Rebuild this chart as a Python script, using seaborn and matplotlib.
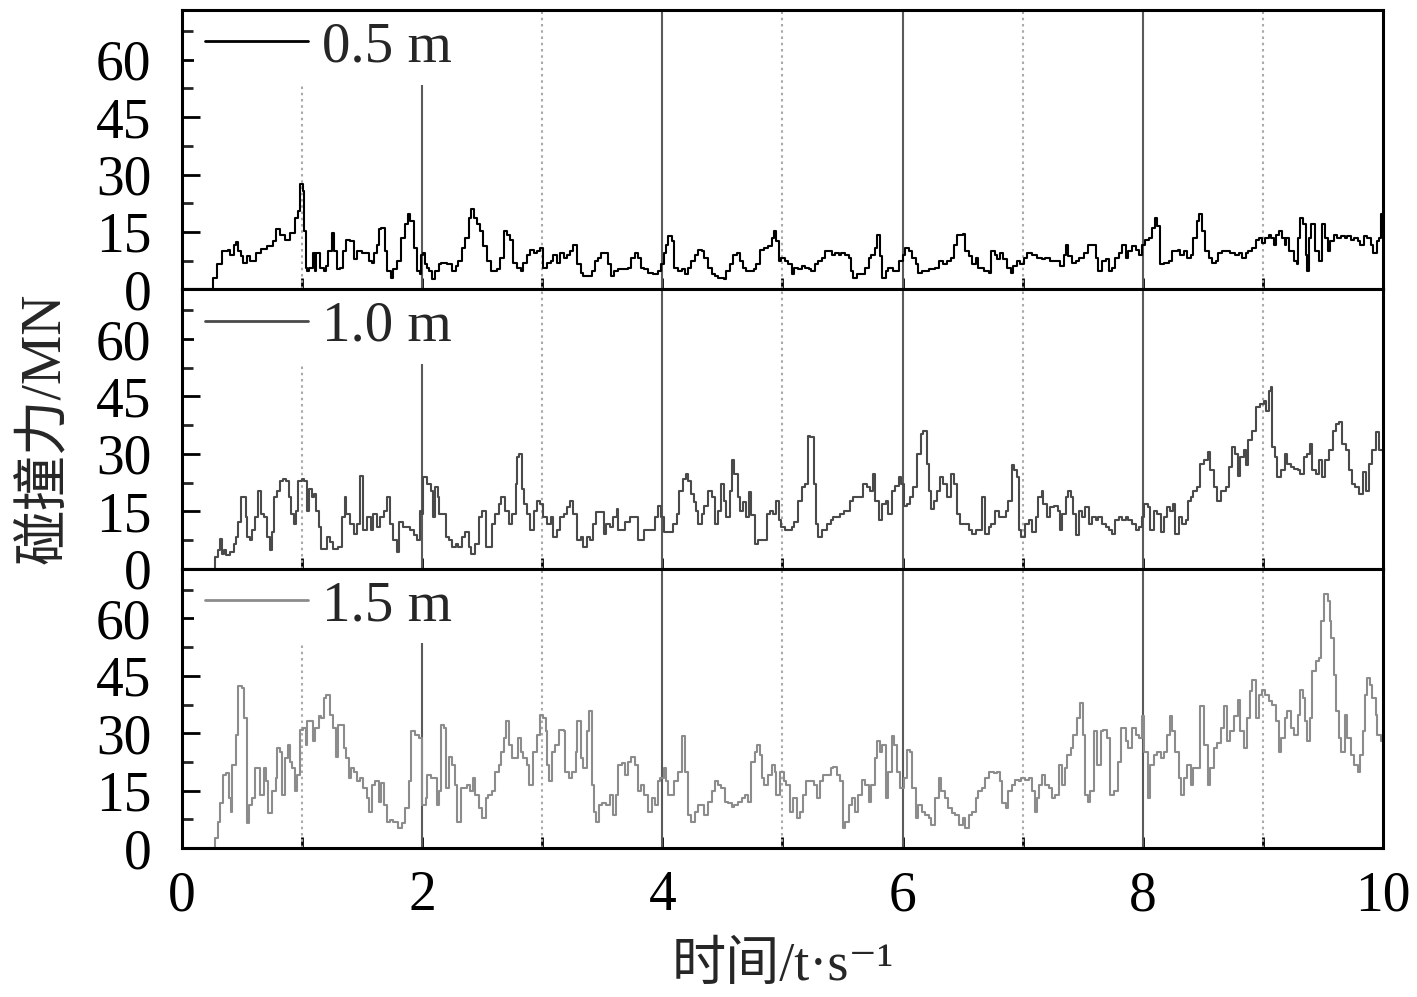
import numpy as np
import pandas as pd
import matplotlib
matplotlib.use("Agg")
import matplotlib.pyplot as plt
from matplotlib.ticker import MultipleLocator
import seaborn as sns

# ---------------- data (time s, force MN) ----------------
labels = ["0.5 m", "1.0 m", "1.5 m"]
colors = ["#000000", "#4a4a4a", "#8c8c8c"]

pts_05 = [(0,0),(0.23,0),(0.26,3),(0.29,6.5),(0.33,10),(0.36,10),(0.38,10.4),(0.40,9.1),(0.43,11.7),(0.45,12.4),(0.47,10),(0.49,8.7),(0.51,7),(0.54,8.7),(0.57,7.4),(0.62,9.6),(0.66,10.5),(0.71,11.3),(0.76,12.6),(0.78,15.7),(0.82,14.3),(0.86,13),(0.90,14.8),(0.94,18.7),(0.97,20.4),(0.98,27.4),(1.01,25.7),(1.02,15.2),(1.03,5.7),(1.04,4.8),(1.06,5.7),(1.09,9.6),(1.11,4.8),(1.12,9.6),(1.15,5.7),(1.18,4.8),(1.20,6.1),(1.22,10),(1.25,14.8),(1.27,10),(1.29,5.2),(1.32,5.7),(1.34,10),(1.37,13),(1.40,12.6),(1.43,7.8),(1.46,10),(1.50,9.6),(1.54,9.6),(1.56,7.4),(1.58,7),(1.60,9.6),(1.62,11.7),(1.64,15.7),(1.66,16.1),(1.69,10),(1.71,4.8),(1.74,3),(1.76,5.2),(1.79,7.4),(1.82,13.5),(1.86,17),(1.88,19.6),(1.90,17.8),(1.93,10.9),(1.96,4.8),(1.98,3.9),(1.99,9.1),(2.01,9.6),(2.02,6.5),(2.04,5.7),(2.06,4.8),(2.08,2.6),(2.11,4.8),(2.14,6.5),(2.16,7),(2.21,6.5),(2.25,4.8),(2.28,6.1),(2.30,7.4),(2.33,10.9),(2.36,13.5),(2.39,18.7),(2.41,20.9),(2.43,18.7),(2.46,17),(2.48,15.2),(2.51,11.3),(2.54,7.4),(2.57,4.8),(2.59,4.8),(2.62,5.2),(2.65,8.3),(2.68,15.2),(2.71,14.3),(2.73,13),(2.76,7),(2.79,5.7),(2.82,4.8),(2.84,7),(2.87,9.1),(2.90,10.4),(2.93,9.6),(2.96,10),(2.98,10.9),(3.01,5.7),(3.04,7),(3.07,7.4),(3.09,9.1),(3.12,7),(3.15,9.6),(3.18,8.3),(3.21,9.1),(3.23,10),(3.26,11.7),(3.29,6.5),(3.32,4.3),(3.34,3.5),(3.40,3.5),
          (3.41,4.8),(3.44,7.4),(3.46,8.3),(3.49,9.6),(3.52,9.6),(3.55,6.5),(3.57,3.5),(3.60,4.8),(3.63,5.2),(3.67,5.2),(3.71,5.7),(3.74,8.3),(3.77,9.6),(3.80,8.3),(3.82,5.7),(3.85,5.2),(3.88,4.3),(3.92,3.9),(3.96,4.8),(3.99,6.5),(4.01,9.6),(4.03,11.7),(4.05,13.9),(4.08,12.6),(4.10,5.7),(4.13,4.8),(4.16,5.2),(4.19,3.9),(4.21,5.7),(4.24,7.4),(4.27,9.1),(4.30,10.4),(4.33,10),(4.35,8.3),(4.38,5.7),(4.41,3.9),(4.44,3.5),(4.46,3),(4.51,2.6),(4.53,4.8),(4.56,6.5),(4.59,9.1),(4.62,9.6),(4.65,7.4),(4.67,5.7),(4.70,4.8),(4.73,4.8),(4.76,5.2),(4.78,6.5),(4.81,10.4),(4.85,10.9),(4.88,11.3),(4.91,13.5),(4.93,15.2),(4.95,12.6),(4.97,7.4),(4.99,8.3),(5.02,7.4),(5.05,6.5),(5.08,3.9),(5.10,5.7),(5.13,5.2),(5.16,6.1),(5.19,5.7),(5.22,5.2),(5.24,4.8),(5.27,6.5),(5.30,7.4),(5.33,8.3),(5.35,10),(5.38,10),(5.41,9.1),(5.44,9.6),(5.47,9.1),(5.49,9.6),(5.52,9.1),(5.55,8.3),(5.57,4.8),(5.59,3),(5.62,3.9),(5.66,3.9),(5.69,5.7),(5.72,8.3),(5.74,9.1),(5.77,10.9),(5.79,14.3),(5.81,8.7),(5.83,3),(5.86,4.8),(5.88,5.7),(5.92,4.8),(5.97,7.4),(6.00,9.1),(6.02,10.9),(6.05,10),(6.08,8.3),(6.11,6.5),(6.13,4.3),(6.16,4.8),(6.22,5.2),(6.27,5.7),(6.30,7.4),(6.34,6.5),(6.37,7.4),(6.40,8.3),(6.43,11.7),(6.45,14.3),(6.50,14.5),(6.52,10),(6.55,8.7),(6.58,6.5),(6.61,8.3),(6.63,5.7),(6.68,4.8),(6.72,4.3),
          (6.74,10),(6.77,9.1),(6.79,7.8),(6.81,9.6),(6.84,7.8),(6.87,5.7),(6.90,4.3),(6.92,6.1),(6.95,7.4),(6.98,6.5),(7.01,8.3),(7.04,9.6),(7.08,9.1),(7.12,8.3),(7.16,7.8),(7.19,8.3),(7.23,7.4),(7.27,7.4),(7.31,6.1),(7.34,9.1),(7.36,11.7),(7.38,8.7),(7.41,7),(7.44,7.4),(7.47,8.3),(7.51,9.6),(7.54,11.7),(7.58,11.7),(7.61,8.3),(7.63,4.8),(7.66,7.4),(7.69,7.8),(7.72,4.8),(7.74,5.7),(7.77,8.3),(7.80,9.6),(7.83,11.7),(7.86,8.3),(7.88,10),(7.91,11.3),(7.94,10.4),(7.97,9.1),(7.99,11.7),(8.02,13),(8.05,13.5),(8.08,16.1),(8.10,18.7),(8.12,16.5),(8.14,6.5),(8.18,7),(8.22,7.4),(8.24,10),(8.29,10.4),(8.31,9.1),(8.34,10),(8.37,8.3),(8.40,9.1),(8.42,13.5),(8.45,17.8),(8.47,19.6),(8.49,15.2),(8.52,10),(8.55,8.3),(8.58,7),(8.61,7.4),(8.63,9.6),(8.66,10),(8.69,10),(8.73,9.6),(8.77,9.1),(8.80,9.6),(8.83,8.3),(8.86,9.6),(8.88,10),(8.91,10.9),(8.94,13),(8.97,13.5),(8.99,12.2),(9.02,13.5),(9.05,14.3),(9.07,13.5),(9.09,11.7),(9.11,14.3),(9.13,15.2),(9.16,13.5),(9.18,11.7),(9.19,13.5),(9.22,10),(9.26,7.4),(9.28,6.5),(9.29,13.5),(9.31,18.7),(9.33,17),(9.36,9.1),(9.37,4.8),(9.38,13.5),(9.40,17),(9.43,10),(9.45,10),(9.47,7.4),(9.49,17),(9.52,13.5),(9.54,10),(9.56,12.6),(9.59,14.3),(9.62,13.5),(9.65,13.9),(9.68,13.5),(9.70,13.9),(9.73,13),(9.76,13.5),(9.79,12.6),(9.81,11.7),(9.84,13.9),(9.87,13.5),(9.90,11.7),(9.92,9.6),(9.95,12.6),(9.97,13.5),(9.98,19.6),(10.0,15.2)]

pts_10 = [(0,0),(0.25,0),(0.275,3),(0.30,4.8),(0.32,7.8),(0.33,3.9),(0.35,4.8),(0.37,3.5),(0.40,4.3),(0.43,6.5),(0.45,8.3),(0.47,12.2),(0.49,18.7),(0.51,18.7),(0.53,13.5),(0.54,8.3),(0.57,7.4),(0.58,10),(0.61,13.5),(0.63,20.4),(0.65,20.4),(0.66,14.3),(0.68,13.5),(0.71,8.3),(0.73,4.8),(0.75,9.6),(0.77,18.7),(0.79,20.4),(0.82,23),(0.84,23.5),(0.87,23),(0.89,18.7),(0.91,14.3),(0.93,11.7),(0.95,15.2),(0.97,23),(1.00,23.5),(1.02,23),(1.04,15.2),(1.06,20.9),(1.08,18.7),(1.10,19.6),(1.12,15.2),(1.14,10.9),(1.16,5.2),(1.18,5.2),(1.21,8.3),(1.23,7),(1.26,5.2),(1.30,5.7),(1.33,13.5),(1.36,18.7),(1.37,14.3),(1.40,11.7),(1.43,9.1),(1.46,11.7),(1.48,24.3),(1.50,24.3),(1.51,10),(1.54,13.5),(1.57,10),(1.59,14.3),(1.62,10.9),(1.65,13.5),(1.68,15.2),(1.71,18.7),(1.73,11.7),(1.76,7.4),(1.79,4.3),(1.81,12.2),(1.84,10.9),(1.87,10.9),(1.90,10),(1.93,8.7),(1.96,7.4),(1.98,15.2),(2.00,14.3),(2.01,23.9),(2.04,22.2),(2.07,20.4),(2.09,13.5),(2.11,21.3),(2.13,18.7),(2.14,14.3),(2.18,14.3),(2.20,8.3),(2.22,7.4),(2.25,5.7),(2.28,6.5),(2.30,5.7),(2.33,8.3),(2.36,9.6),(2.39,5.7),(2.41,3.9),(2.44,6.5),(2.47,13.5),(2.50,15.2),(2.53,5.7),(2.55,5.7),(2.58,11.7),(2.61,14.3),(2.64,17),(2.66,18.7),(2.69,15.2),(2.72,11.7),(2.75,14.3),(2.78,22.2),(2.79,29.1),(2.81,30),(2.83,20.9),(2.85,17),(2.87,14.3),(2.90,10),(2.93,15.2),(2.96,17.8),(2.98,17),(3.01,13.5),(3.04,11.7),(3.07,13.5),(3.09,8.3),(3.12,10),(3.15,13.5),(3.18,14.3),(3.21,16.1),(3.23,17.8),(3.26,14.3),(3.29,7.4),(3.32,8.3),(3.34,5.7),(3.37,8.3),(3.40,7.4),
          (3.42,11.7),(3.45,14.8),(3.49,14.8),(3.51,9.1),(3.53,11.7),(3.56,10.9),(3.59,13.5),(3.62,15.7),(3.63,10),(3.66,10),(3.69,12.2),(3.73,13.5),(3.77,13.5),(3.80,7.4),(3.82,7.4),(3.85,10),(3.89,10),(3.94,13.5),(3.96,16.5),(3.99,13.5),(4.01,9.6),(4.05,9.6),(4.09,11.7),(4.12,14.3),(4.14,20.4),(4.17,23.5),(4.20,24.8),(4.21,23),(4.24,19.6),(4.26,17.4),(4.28,15.2),(4.30,11.7),(4.33,14.3),(4.35,16.5),(4.38,20.4),(4.41,18.7),(4.44,11.7),(4.46,15.2),(4.49,22.2),(4.51,17.8),(4.53,13.5),(4.56,20.4),(4.58,28.3),(4.60,24.8),(4.63,18.7),(4.65,15.2),(4.67,17.4),(4.70,13.5),(4.72,20),(4.74,13.9),(4.77,6.5),(4.80,7.4),(4.84,7.4),(4.87,14.3),(4.90,15.2),(4.92,14.3),(4.95,17.8),(4.97,12.6),(4.99,10.9),(5.02,10),(5.05,10),(5.08,10.9),(5.10,12.2),(5.13,17.8),(5.16,21.3),(5.19,22.2),(5.21,34.8),(5.23,34.3),(5.26,22.2),(5.28,11.7),(5.30,8.3),(5.33,10),(5.37,11.7),(5.40,12.6),(5.42,13.5),(5.45,13.5),(5.48,14.3),(5.51,15.2),(5.54,15.2),(5.56,17.8),(5.59,18.7),(5.63,18.7),(5.67,22.2),(5.70,21.3),(5.73,20.4),(5.75,24.8),(5.77,17.8),(5.80,12.6),(5.83,17),(5.86,17.8),(5.88,14.3),(5.91,20.4),(5.94,21.7),(5.97,23.9),(5.99,22.2),(6.01,16.5),(6.04,17),(6.06,18.7),(6.09,21.3),(6.12,30),(6.15,35.2),(6.17,36.1),(6.20,27.4),(6.22,20.4),(6.24,15.7),(6.26,17.8),(6.29,20.4),(6.31,23.9),(6.34,22.2),(6.37,18.7),(6.40,24.8),(6.43,22.2),(6.45,14.3),(6.48,11.7),(6.52,11.7),(6.55,10),(6.58,9.1),(6.61,10),(6.63,10),(6.66,18.7),(6.69,9.1),(6.72,10.9),
          (6.74,11.7),(6.77,15.2),(6.80,13.5),(6.83,13.5),(6.86,15.2),(6.88,17.8),(6.91,27),(6.93,25.7),(6.95,23.9),(6.97,10),(6.99,8.3),(7.02,11.7),(7.05,12.6),(7.08,9.6),(7.11,13.5),(7.13,18.7),(7.16,20.4),(7.17,17),(7.20,13.5),(7.23,16.1),(7.26,16.5),(7.29,15.2),(7.31,10),(7.33,14.3),(7.36,18.7),(7.38,20.4),(7.40,18.7),(7.42,14.3),(7.44,8.7),(7.47,15.2),(7.49,13.5),(7.52,16.1),(7.55,11.7),(7.58,13.5),(7.61,12.6),(7.63,13.5),(7.66,11.7),(7.69,10.9),(7.72,10),(7.74,9.1),(7.77,12.6),(7.80,13.5),(7.83,12.6),(7.86,13.5),(7.88,12.6),(7.91,11.7),(7.94,10),(7.97,10.9),(7.99,13.5),(8.01,17),(8.04,16.1),(8.06,10),(8.09,15.2),(8.12,14.3),(8.15,9.6),(8.18,13.5),(8.20,16.1),(8.23,15.2),(8.25,17),(8.27,9.1),(8.30,13.5),(8.33,11.7),(8.36,12.6),(8.38,17.8),(8.40,18.7),(8.42,20.4),(8.45,21.3),(8.48,27.4),(8.51,28.3),(8.54,30.4),(8.56,25.7),(8.59,21.3),(8.62,17.8),(8.65,20.4),(8.69,21.3),(8.72,26.5),(8.74,31.7),(8.77,30),(8.79,24.3),(8.81,29.1),(8.84,30.9),(8.86,27),(8.88,33.5),(8.91,36.1),(8.94,42.2),(8.98,43),(9.01,43.9),(9.03,41.3),(9.05,46.5),(9.07,47.4),(9.08,31.7),(9.10,29.1),(9.12,23.9),(9.15,25.7),(9.18,30),(9.20,27.4),(9.23,26.5),(9.26,26.1),(9.29,25.7),(9.31,24.8),(9.34,29.1),(9.37,30),(9.39,32.6),(9.41,25.7),(9.44,24.8),(9.47,28.3),(9.49,23.9),(9.52,28.3),(9.55,30.9),(9.58,36.1),(9.61,37.8),(9.63,38.3),(9.66,32.6),(9.69,30.9),(9.72,25.7),(9.74,22.2),(9.77,21.3),(9.80,19.6),(9.83,25.2),(9.86,20.4),(9.88,27.4),(9.91,30.9),(9.94,35.7),(9.97,30.9),(10.0,30)]

pts_15 = [(0,0),(0.24,0),(0.275,2.5),(0.30,6.9),(0.32,11.7),(0.34,19.1),(0.37,19.6),(0.39,13),(0.41,9.5),(0.42,21.7),(0.45,29.6),(0.47,42.3),(0.50,41.8),(0.52,34),(0.54,6.5),(0.56,11.3),(0.58,13),(0.61,20.9),(0.63,20.9),(0.65,13.9),(0.68,20.9),(0.70,17.4),(0.72,9.1),(0.75,14.8),(0.78,18.3),(0.79,26.1),(0.82,25.2),(0.83,13.9),(0.86,23.5),(0.88,27),(0.90,22.6),(0.92,20.9),(0.94,14.8),(0.96,19.1),(0.98,30.9),(1.01,31.4),(1.03,27),(1.04,33.1),(1.07,33.1),(1.09,27.9),(1.11,31.4),(1.14,34.4),(1.16,34),(1.18,39.2),(1.20,40.1),(1.23,34.8),(1.26,31.4),(1.28,23.9),(1.30,32.2),(1.33,32.2),(1.35,26.1),(1.37,23.5),(1.39,18.3),(1.41,20.9),(1.43,20),(1.46,17.4),(1.48,18.3),(1.51,15.6),(1.54,13),(1.56,9.5),(1.58,16.5),(1.61,17.4),(1.64,12.1),(1.66,16.9),(1.68,11.3),(1.71,6.9),(1.73,7.3),(1.76,6.9),(1.80,5.2),(1.83,6.5),(1.86,10.4),(1.89,17.4),(1.91,30.5),(1.94,29.6),(1.97,28.7),(2.00,11.3),(2.03,13),(2.04,19.1),(2.07,18.3),(2.09,18.3),(2.12,11.3),(2.14,14.8),(2.16,32.2),(2.18,31.4),(2.20,15.6),(2.22,23.9),(2.25,21.7),(2.27,16.5),(2.29,6.9),(2.32,15.6),(2.34,15.6),(2.37,16.5),(2.40,14.8),(2.42,18.3),(2.44,13.9),(2.47,10.4),(2.50,7.8),(2.53,13),(2.55,13.9),(2.58,14.8),(2.61,20),(2.64,21.7),(2.66,25.2),(2.68,28.7),(2.70,33.1),(2.72,27),(2.75,23.5),(2.78,23.5),(2.80,28.7),(2.82,25.2),(2.84,23.5),(2.87,21.7),(2.89,16.5),(2.92,25.2),(2.96,29.6),(2.98,34.8),(3.01,34),(3.03,30.5),(3.04,21.7),(3.06,17.4),(3.08,25.2),(3.11,27),(3.14,30.9),(3.18,30.5),(3.19,20),(3.22,18.3),(3.25,20),(3.28,25.2),(3.29,33.1),(3.32,23.5),(3.34,20.9),(3.37,30.5),(3.39,35.7),
          (3.41,16.5),(3.43,9.5),(3.45,6.9),(3.47,11.3),(3.50,11.7),(3.53,11.3),(3.56,13.9),(3.59,8.6),(3.61,13.9),(3.63,21.7),(3.66,22.2),(3.69,19.1),(3.71,22.6),(3.74,23.9),(3.77,21.7),(3.80,14.8),(3.82,16.5),(3.85,13.9),(3.88,9.5),(3.91,13),(3.94,11.3),(3.96,17.4),(3.98,18.3),(4.01,20.9),(4.03,17.4),(4.05,13.9),(4.08,13.9),(4.10,17.4),(4.13,20),(4.16,29.2),(4.19,20),(4.21,8.6),(4.24,6.9),(4.27,9.5),(4.30,11.3),(4.33,11.3),(4.35,8.6),(4.38,12.1),(4.41,14.8),(4.44,17.4),(4.46,16.5),(4.49,15.6),(4.52,12.1),(4.55,11.7),(4.58,10.8),(4.60,11.3),(4.63,12.1),(4.66,13),(4.69,13.9),(4.71,12.1),(4.74,22.6),(4.77,25.2),(4.79,27),(4.81,24.4),(4.83,18.3),(4.85,16.5),(4.88,19.1),(4.91,21.7),(4.94,20),(4.95,13.9),(4.98,20),(5.01,17.4),(5.03,16.5),(5.06,9.5),(5.09,13),(5.12,7.8),(5.15,9.5),(5.17,13.9),(5.20,17.4),(5.23,17.4),(5.26,16.5),(5.29,13),(5.31,17.4),(5.34,19.1),(5.37,19.1),(5.40,20.9),(5.42,21.3),(5.45,19.1),(5.48,17.4),(5.50,5.2),(5.52,6.9),(5.55,11.3),(5.58,13),(5.60,9.5),(5.63,13.9),(5.66,17.8),(5.69,16.5),(5.72,12.1),(5.74,16.5),(5.77,23.5),(5.79,27.9),(5.81,25.2),(5.83,27),(5.86,13),(5.88,20),(5.91,29.2),(5.93,27),(5.95,20),(5.98,15.6),(6.01,18.3),(6.04,25.7),(6.06,25.2),(6.08,15.6),(6.11,7.8),(6.13,11.3),(6.16,9.5),(6.19,8.6),(6.22,7.8),(6.24,6),(6.27,13),(6.30,18.3),(6.32,14.8),(6.35,13),(6.38,10.4),(6.41,9.1),(6.44,8.6),(6.47,6),(6.50,7.8),(6.52,5.2),(6.55,8.6),(6.58,9.5),(6.61,13),(6.63,14.8),(6.66,15.6),(6.69,18.3),(6.72,20),
          (6.76,19.6),(6.79,20),(6.81,17.4),(6.83,11.7),(6.86,10.4),(6.88,14.8),(6.91,16.5),(6.94,17.8),(6.97,17.4),(6.99,18.3),(7.02,17.8),(7.05,18.3),(7.08,14.8),(7.10,9.5),(7.12,13),(7.14,16.5),(7.16,19.1),(7.19,16.5),(7.22,15.6),(7.24,13),(7.27,13.9),(7.30,21.7),(7.33,16.5),(7.35,20.9),(7.37,24.4),(7.40,26.1),(7.42,29.6),(7.45,34),(7.48,37.9),(7.50,29.6),(7.52,13.9),(7.54,12.1),(7.56,14.8),(7.59,30.5),(7.62,21.7),(7.65,30.5),(7.67,30.9),(7.70,28.7),(7.73,13.9),(7.76,14.8),(7.79,22.6),(7.82,31.4),(7.86,27.9),(7.88,26.1),(7.91,31.4),(7.94,29.6),(7.97,28.7),(7.99,34.4),(8.01,25.2),(8.04,13),(8.06,21.7),(8.09,24.4),(8.12,25.2),(8.15,23.5),(8.18,25.2),(8.20,29.6),(8.23,34.4),(8.24,30.5),(8.27,25.2),(8.30,18.3),(8.32,13.9),(8.34,18.3),(8.37,21.7),(8.40,16.5),(8.42,20.9),(8.45,20.9),(8.48,37),(8.51,27),(8.54,16.5),(8.56,20.9),(8.59,26.1),(8.62,27.4),(8.65,31.4),(8.68,37),(8.70,27.9),(8.73,30.5),(8.76,34.4),(8.79,38.8),(8.81,30.5),(8.84,26.1),(8.87,34),(8.89,41),(8.91,44),(8.94,34),(8.97,40.1),(8.99,41.4),(9.02,40.1),(9.05,38.3),(9.08,37.5),(9.11,33.1),(9.13,25.2),(9.15,28.7),(9.18,34),(9.20,35.7),(9.23,31.4),(9.26,29.6),(9.29,34.8),(9.31,41.4),(9.33,39.2),(9.35,33.1),(9.37,27.9),(9.39,34),(9.41,46.2),(9.44,48.8),(9.47,49.7),(9.48,59.3),(9.51,66.3),(9.54,64.5),(9.56,59.3),(9.57,54.9),(9.59,45.3),(9.61,35.7),(9.63,28.7),(9.65,25.2),(9.68,34.8),(9.70,28.7),(9.73,24.4),(9.76,21.7),(9.79,20),(9.81,24.4),(9.83,30.5),(9.85,40.1),(9.87,44.5),(9.89,42.7),(9.91,39.2),(9.94,34.8),(9.95,29.6),(9.98,27.9),(10.0,27.9)]

series = [pts_05, pts_10, pts_15]
y_ticks = [0, 15, 30, 45, 60]
x_ticks = [0, 2, 4, 6, 8, 10]
xlabel = "时间/t·s⁻¹"
ylabel = "碰撞力/MN"

# ---------------- style ----------------
sns.set_theme(style="white")
plt.rcParams["font.family"] = ["Liberation Serif", "Noto Sans CJK SC", "DejaVu Serif"]
plt.rcParams["axes.unicode_minus"] = False

fig, axes = plt.subplots(3, 1, sharex=True, figsize=(14.17, 9.97), dpi=100,
                         gridspec_kw=dict(hspace=0))
fig.subplots_adjust(left=0.1284, right=0.976, top=0.990, bottom=0.1494)

for ax, pts, lab, col in zip(axes, series, labels, colors):
    df = pd.DataFrame(pts, columns=["t", "f"])
    # vertical reference lines (solid at even seconds, dotted at odd seconds)
    for xv in [2, 4, 6, 8]:
        ax.axvline(xv, color="#5a5a5a", lw=1.5, zorder=1)
    for xv in [1, 3, 5, 7, 9]:
        ax.axvline(xv, color="#aaaaaa", lw=1.5, ls=(0, (1.2, 1.8)), zorder=1)
    sns.lineplot(data=df, x="t", y="f", ax=ax, color=col, lw=1.5,
                 estimator=None, sort=False, errorbar=None,
                 drawstyle="steps-post", label=lab, zorder=3)
    ax.set_xlim(0, 10)
    ax.set_ylim(0, 73)
    ax.set_yticks(y_ticks)
    ax.yaxis.set_minor_locator(MultipleLocator(7.5))
    ax.xaxis.set_minor_locator(MultipleLocator(1))
    ax.set_xticks(x_ticks)
    for sp in ax.spines.values():
        sp.set_color("black")
        sp.set_linewidth(2.2)
        sp.set_visible(True)
        sp.set_zorder(6)
    ax.tick_params(axis="y", which="major", direction="in", length=13, width=2,
                   labelsize=40, pad=22, left=True, right=False, colors="black")
    ax.tick_params(axis="y", which="minor", direction="in", length=8, width=2,
                   left=True, right=False)
    ax.tick_params(axis="x", which="both", direction="in", length=8, width=2,
                   labelsize=40, pad=16, bottom=True, top=False, colors="black")
    ax.set_xlabel("")
    ax.set_ylabel("")
    leg = ax.legend(loc="upper left", bbox_to_anchor=(0.01, 1.0), fontsize=41,
                    frameon=True, facecolor="white", edgecolor="none", framealpha=1,
                    handlelength=1.8, handletextpad=0.25, borderaxespad=0.0,
                    borderpad=0.2)
    for h in leg.get_lines():
        h.set_linewidth(2)
    leg.set_zorder(5)

for ax in axes[:-1]:
    ax.tick_params(axis="x", labelbottom=False)

axes[-1].set_xlabel(xlabel, fontsize=39, labelpad=14)
fig.text(0.032, 0.57, ylabel, rotation=90, fontsize=40, ha="center", va="center")

fig.savefig("out.png", dpi=100)
